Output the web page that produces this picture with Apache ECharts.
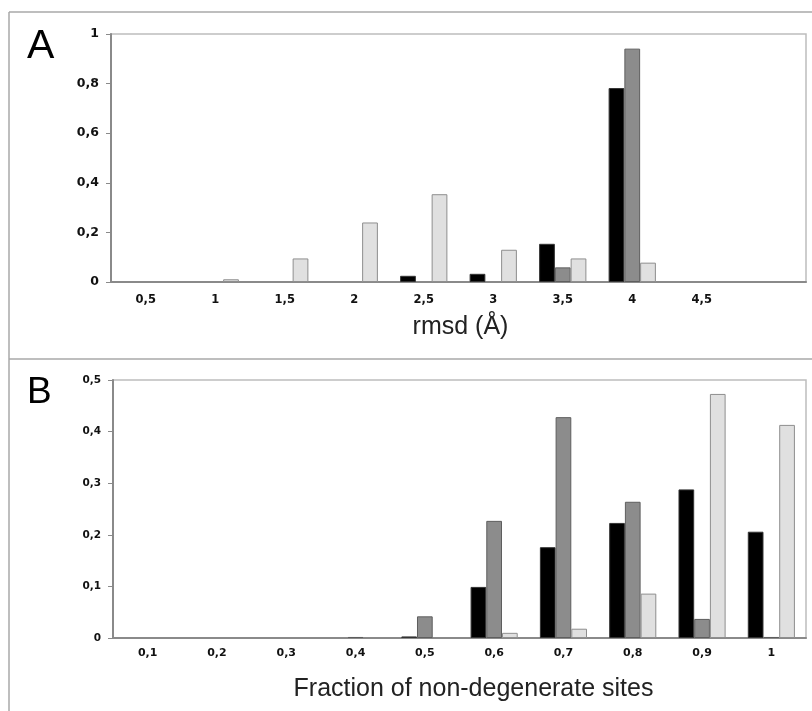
<!DOCTYPE html>
<html>
<head>
<meta charset="utf-8">
<script src="https://cdn.jsdelivr.net/npm/echarts@6/dist/echarts.min.js"></script>
<style>
  html, body { margin: 0; padding: 0; background: #fff; }
  #chart { width: 812px; height: 711px; }
</style>
</head>
<body>
<div id="chart"></div>
<script>
// panel A: rmsd distribution
const rmsdCats = ['0,5', '1', '1,5', '2', '2,5', '3', '3,5', '4', '4,5', ''];
const rmsdBlack = [0, 0, 0, 0, 0.025, 0.033, 0.154, 0.782, 0, 0];
const rmsdDark = [0, 0, 0, 0, 0, 0, 0.059, 0.941, 0, 0];
const rmsdLight = [0, 0.011, 0.095, 0.24, 0.354, 0.13, 0.095, 0.078, 0, 0];

// panel B: fraction of non-degenerate sites
const fracCats = ['0,1', '0,2', '0,3', '0,4', '0,5', '0,6', '0,7', '0,8', '0,9', '1'];
const fracBlack = [0, 0, 0, 0, 0.003, 0.099, 0.176, 0.223, 0.288, 0.206];
const fracDark = [0, 0, 0, 0.002, 0.042, 0.227, 0.428, 0.264, 0.037, 0.002];
const fracLight = [0, 0, 0, 0, 0, 0.01, 0.018, 0.086, 0.473, 0.413];

const AXIS = '#8a8a8a';
const comma = v => String(v).replace('.', ',');

const styles = [
    {color: '#000000', borderColor: '#333333', borderWidth: 1},
    {color: '#8c8c8c', borderColor: '#5e5e5e', borderWidth: 1},
    {color: '#e0e0e0', borderColor: '#8e8e8e', borderWidth: 1}
];

function bars(data, idx, st) {
    return {
        type: 'bar', xAxisIndex: idx, yAxisIndex: idx,
        // empty bins draw nothing
        data: data.map(v => v === 0 ? null : v),
        barGap: '0%', barCategoryGap: '32%',
        itemStyle: st, animation: false
    };
}

function xAx(idx, cats, fs, margin, name, gap, pad) {
    return {
        type: 'category', gridIndex: idx, data: cats,
        axisLine: {lineStyle: {color: AXIS, width: 2}},
        axisTick: {length: 4, lineStyle: {color: AXIS}},
        axisLabel: {
            interval: 0, margin: margin, color: '#111',
            fontFamily: 'DejaVu Sans', fontWeight: 'bold', fontSize: fs
        },
        name: name, nameLocation: 'middle', nameGap: gap,
        nameTextStyle: {
            fontFamily: 'Liberation Sans', fontSize: 25, color: '#222', padding: pad
        }
    };
}

function yAx(idx, max, step, fs) {
    return {
        type: 'value', gridIndex: idx, min: 0, max: max, interval: step,
        axisLine: {show: true, lineStyle: {color: AXIS, width: 2}},
        axisTick: {show: true, length: 5, lineStyle: {color: AXIS}},
        splitLine: {show: false},
        axisLabel: {
            margin: 12, color: '#111', formatter: comma,
            fontFamily: 'DejaVu Sans', fontWeight: 'bold', fontSize: fs
        }
    };
}

const line = (x1, y1, x2, y2) => ({
    type: 'line', shape: {x1, y1, x2, y2},
    style: {stroke: '#a8a8a8', lineWidth: 1.5}
});

const letter = (t, x, y, fs) => ({
    type: 'text', x: x, y: y,
    style: {
        text: t, font: fs + 'px "Liberation Sans"', fill: '#000',
        textVerticalAlign: 'middle'
    }
});

let myChart = echarts.init(document.getElementById('chart'));
myChart.setOption({
    animation: false,
    grid: [
        {left: 111, top: 34, width: 695, height: 248, show: true, borderColor: '#bdbdbd', borderWidth: 1.5},
        {left: 113, top: 380, width: 693, height: 258, show: true, borderColor: '#bdbdbd', borderWidth: 1.5}
    ],
    xAxis: [
        xAx(0, rmsdCats, 11.5, 12, 'rmsd (Å)', 33, [0, 0, 0, 4]),
        xAx(1, fracCats, 11, 10, 'Fraction of non-degenerate sites', 39, [0, 0, 0, 28])
    ],
    yAxis: [
        yAx(0, 1, 0.2, 12.5),
        yAx(1, 0.5, 0.1, 10.5)
    ],
    series: [
        bars(rmsdBlack, 0, styles[0]),
        bars(rmsdDark, 0, styles[1]),
        bars(rmsdLight, 0, styles[2]),
        bars(fracBlack, 1, styles[0]),
        bars(fracDark, 1, styles[1]),
        bars(fracLight, 1, styles[2])
    ],
    graphic: [
        line(9, 12, 812, 12),
        line(9, 359, 812, 359),
        line(9, 12, 9, 711),
        letter('A', 27, 47, 41),
        letter('B', 27, 393, 37)
    ]
});
</script>
</body>
</html>
